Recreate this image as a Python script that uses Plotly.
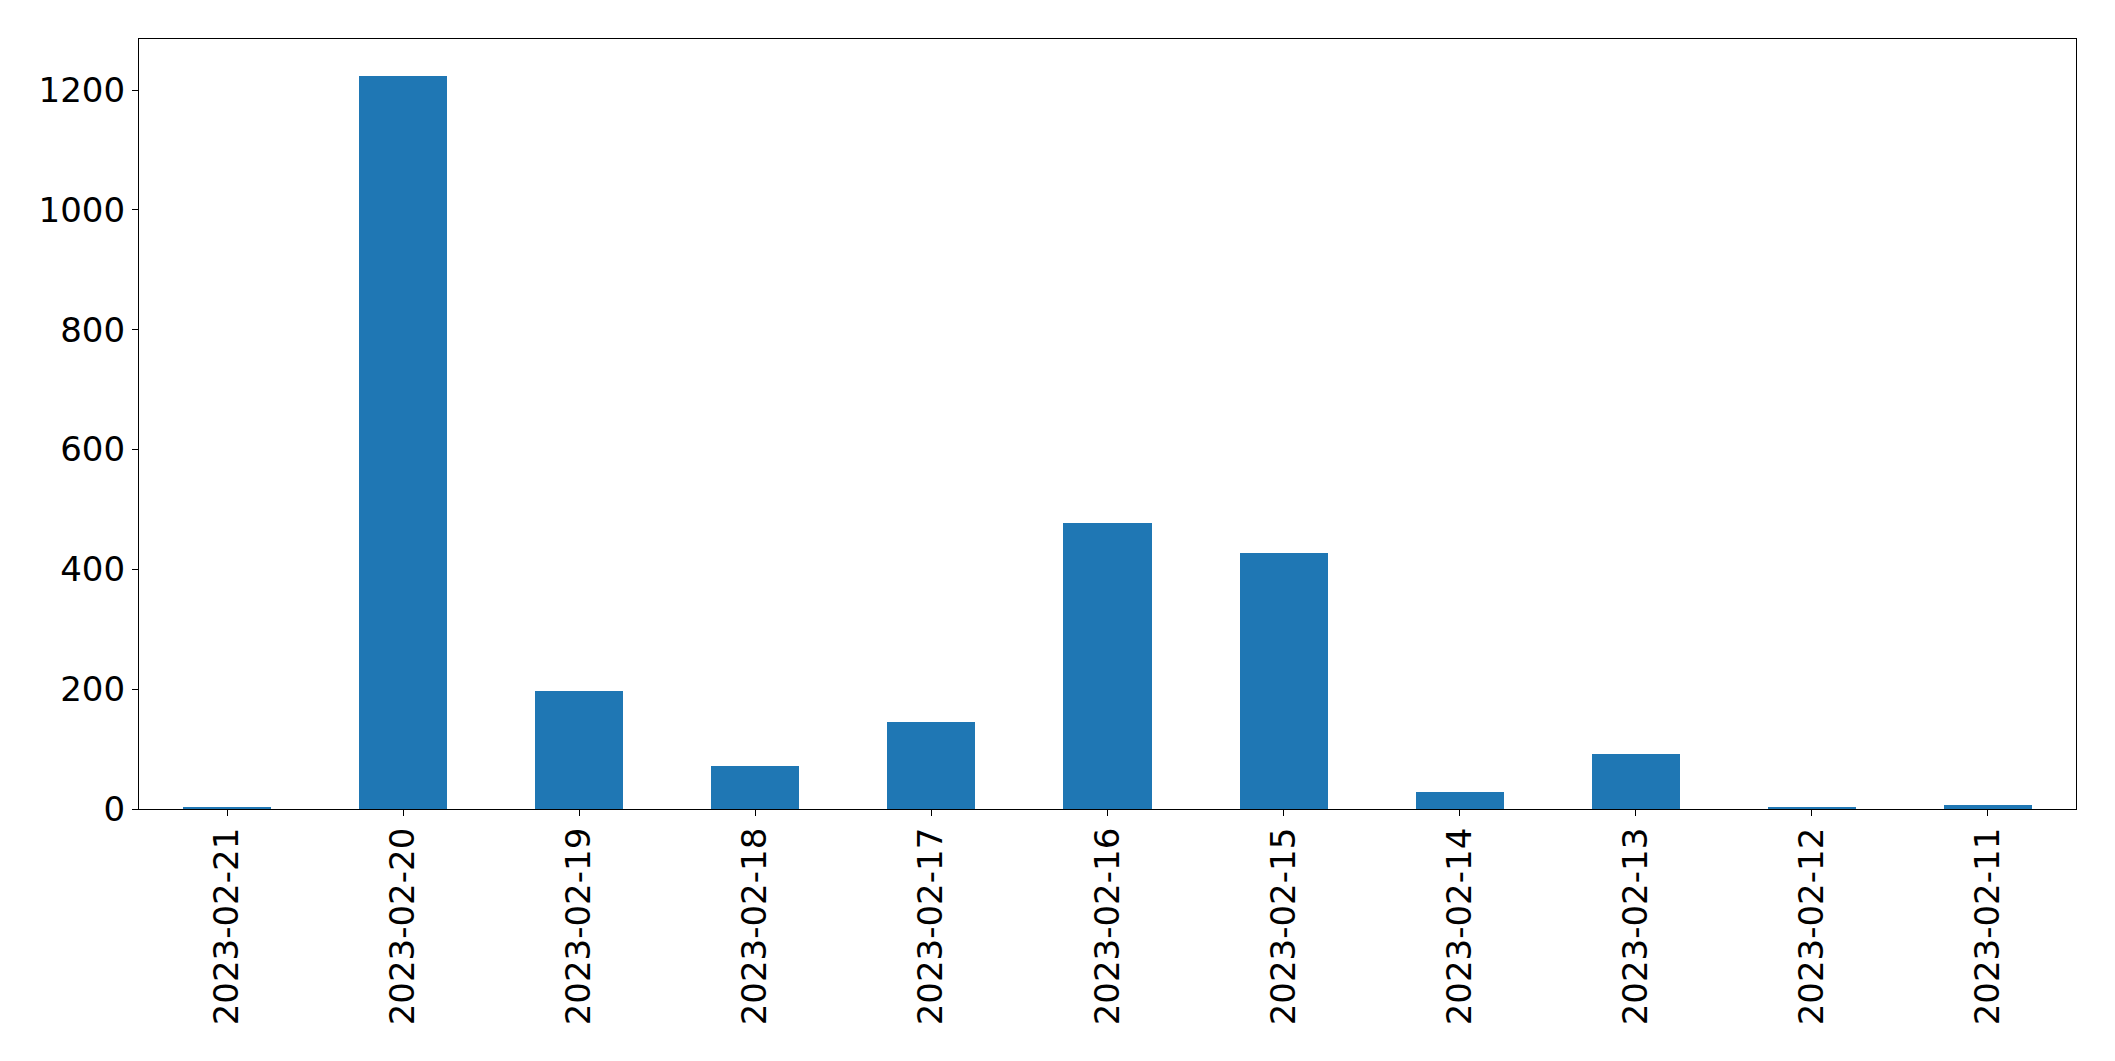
import plotly.graph_objects as go

dates = ["2023-02-21", "2023-02-20", "2023-02-19", "2023-02-18", "2023-02-17",
         "2023-02-16", "2023-02-15", "2023-02-14", "2023-02-13", "2023-02-12",
         "2023-02-11"]
counts = [4, 1224, 197, 72, 146, 478, 428, 29, 91, 4, 7]
y_ticks = [0, 200, 400, 600, 800, 1000, 1200]

fig = go.Figure(go.Bar(x=dates, y=counts, width=0.5, marker_color="#1f77b4",
                       marker_line_width=0))

font = dict(family="DejaVu Sans", size=34, color="black")
fig.update_layout(
    width=2115, height=1061,
    margin=dict(l=139, r=39, t=39, b=252),
    paper_bgcolor="white", plot_bgcolor="white",
    showlegend=False, bargap=0,
    font=font,
)
fig.update_xaxes(type="category", range=[-0.5, len(dates) - 0.5],
                 tickangle=-90, ticks="outside", ticklen=6, tickwidth=1.2,
                 tickcolor="black", showline=True, linecolor="black",
                 linewidth=1.3, mirror=True, showgrid=False, tickfont=font,
                 ticklabelstandoff=-2)
fig.update_yaxes(range=[0, max(counts) * 1.05], tickvals=y_ticks,
                 ticks="outside", ticklen=6, tickwidth=1.2, tickcolor="black",
                 showline=True, linecolor="black", linewidth=1.3, mirror=True,
                 showgrid=False, zeroline=False, tickfont=font,
                 ticklabelstandoff=0)

fig.write_html("out.html")
